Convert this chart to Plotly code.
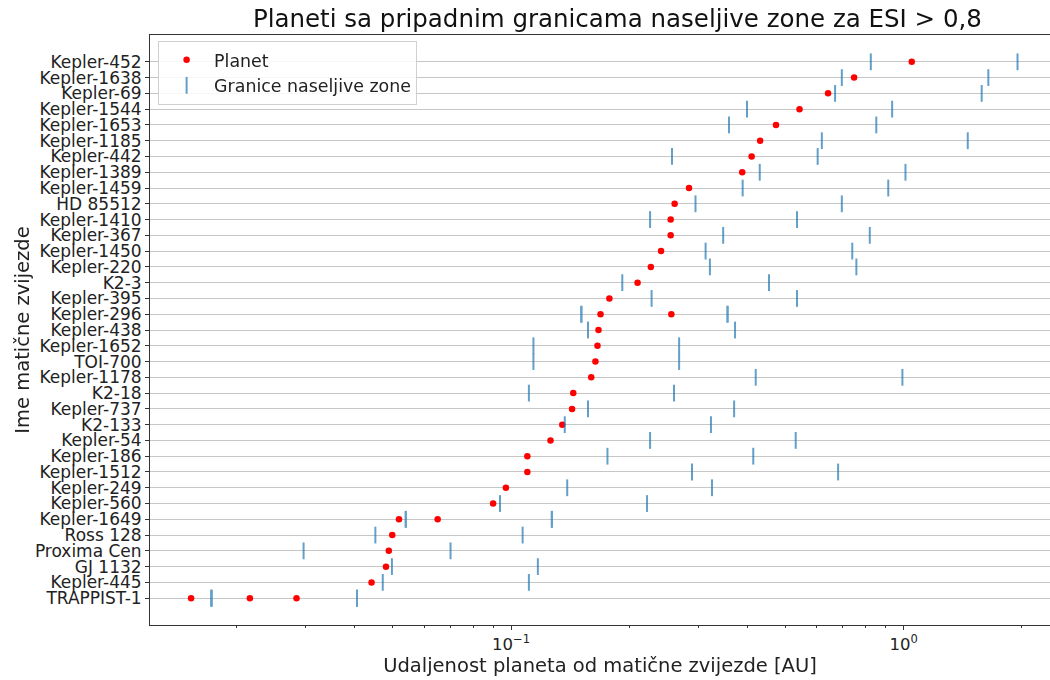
import plotly.graph_objects as go

# Host stars, top to bottom as shown on the chart
STARS = [
    "Kepler-452", "Kepler-1638", "Kepler-69", "Kepler-1544", "Kepler-1653",
    "Kepler-1185", "Kepler-442", "Kepler-1389", "Kepler-1459", "HD 85512",
    "Kepler-1410", "Kepler-367", "Kepler-1450", "Kepler-220", "K2-3",
    "Kepler-395", "Kepler-296", "Kepler-438", "Kepler-1652", "TOI-700",
    "Kepler-1178", "K2-18", "Kepler-737", "K2-133", "Kepler-54",
    "Kepler-186", "Kepler-1512", "Kepler-249", "Kepler-560", "Kepler-1649",
    "Ross 128", "Proxima Cen", "GJ 1132", "Kepler-445", "TRAPPIST-1",
]

# Habitable zone bounds per star [AU]
HZ_INNER = [
    0.825, 0.696, 0.669, 0.399, 0.359,
    0.619, 0.257, 0.430, 0.389, 0.295,
    0.226, 0.347, 0.313, 0.321, 0.192,
    0.228, 0.151, 0.157, 0.114, 0.114,
    0.420, 0.111, 0.157, 0.137, 0.226,
    0.176, 0.289, 0.139, 0.0937, 0.0539,
    0.0451, 0.0296, 0.0497, 0.0471, 0.01724,
]
HZ_OUTER = [
    1.951, 1.644, 1.581, 0.935, 0.852,
    1.457, 0.604, 1.011, 0.914, 0.696,
    0.535, 0.820, 0.740, 0.758, 0.454,
    0.535, 0.356, 0.372, 0.268, 0.268,
    0.993, 0.260, 0.370, 0.323, 0.531,
    0.414, 0.681, 0.325, 0.222, 0.127,
    0.107, 0.0701, 0.117, 0.111, 0.0405,
]

# Planets with ESI > 0.8: host star and orbital distance [AU]
PLANET_STAR = [
    "Kepler-452", "Kepler-1638", "Kepler-69", "Kepler-1544", "Kepler-1653",
    "Kepler-1185", "Kepler-442", "Kepler-1389", "Kepler-1459", "HD 85512",
    "Kepler-1410", "Kepler-367", "Kepler-1450", "Kepler-220", "K2-3",
    "Kepler-395", "Kepler-296", "Kepler-296", "Kepler-438", "Kepler-1652",
    "TOI-700", "Kepler-1178", "K2-18", "Kepler-737", "K2-133",
    "Kepler-54", "Kepler-186", "Kepler-1512", "Kepler-249", "Kepler-560",
    "Kepler-1649", "Kepler-1649", "Ross 128", "Proxima Cen", "GJ 1132",
    "Kepler-445", "TRAPPIST-1", "TRAPPIST-1", "TRAPPIST-1",
]
PLANET_DIST = [
    1.049, 0.748, 0.642, 0.543, 0.473,
    0.431, 0.410, 0.388, 0.284, 0.261,
    0.255, 0.255, 0.241, 0.227, 0.210,
    0.178, 0.169, 0.256, 0.167, 0.166,
    0.164, 0.160, 0.144, 0.143, 0.135,
    0.126, 0.110, 0.110, 0.097, 0.090,
    0.0518, 0.0650, 0.0498, 0.0488, 0.0480,
    0.0441, 0.0153, 0.0216, 0.0284,
]

MAJOR_TICKS = [0.1, 1]
MAJOR_LABELS = ["10<sup>−1</sup>", "10<sup>0</sup>"]
MINOR_TICKS = [0.02, 0.03, 0.04, 0.05, 0.06, 0.07, 0.08, 0.09,
               0.2, 0.3, 0.4, 0.5, 0.6, 0.7, 0.8, 0.9, 2]

FONT = "DejaVu Sans"

# stars are placed bottom-up: TRAPPIST-1 at 0, Kepler-452 at the top
n = len(STARS)
star_pos = {s: n - 1 - i for i, s in enumerate(STARS)}

# bounds are drawn once per planet, so multi-planet systems overlap
bound_x = []
bound_y = []
for star in PLANET_STAR:
    i = STARS.index(star)
    bound_x += [HZ_INNER[i], HZ_OUTER[i]]
    bound_y += [star_pos[star], star_pos[star]]

fig = go.Figure()
fig.add_trace(go.Scatter(
    x=PLANET_DIST, y=[star_pos[s] for s in PLANET_STAR],
    mode="markers", name="Planet",
    marker=dict(color="red", size=6.5, line=dict(width=0)),
))
fig.add_trace(go.Scatter(
    x=bound_x, y=bound_y, mode="markers", name="Granice naseljive zone",
    opacity=0.7,
    marker=dict(symbol="line-ns", size=12, color="#1f77b4",
                line=dict(color="#1f77b4", width=2)),
))

fig.update_layout(
    width=1050, height=680,
    paper_bgcolor="white", plot_bgcolor="white",
    margin=dict(l=150, r=0, t=35, b=55),
    font=dict(family=FONT, size=17, color="#222"),
    title=dict(text="Planeti sa pripadnim granicama naseljive zone za ESI > 0,8",
               x=0.588, xref="container", xanchor="center",
               y=0.973, yref="container", yanchor="middle",
               font=dict(size=24.5, family=FONT, color="#111")),
    legend=dict(x=0.009, y=0.99, xanchor="left", yanchor="top",
                bgcolor="rgba(255,255,255,0.85)", bordercolor="#d0d0d0",
                borderwidth=1, font=dict(size=17.4, family=FONT),
                itemwidth=45, tracegroupgap=0),
    showlegend=True,
)

fig.update_xaxes(
    type="log", range=[-1.92, 0.373], automargin=False,
    tickmode="array", tickvals=MAJOR_TICKS, ticktext=MAJOR_LABELS,
    ticks="outside", ticklen=4, tickcolor="#333",
    minor=dict(tickmode="array", tickvals=MINOR_TICKS, ticks="outside",
               ticklen=2, tickcolor="#333", showgrid=False),
    showgrid=False, zeroline=False,
    showline=True, linecolor="#333", linewidth=1, mirror=True,
    tickfont=dict(size=16.5),
    title=dict(text="Udaljenost planeta od matične zvijezde [AU]",
               font=dict(size=19.5), standoff=3),
)

fig.update_yaxes(
    range=[-1.7, n + 0.7], automargin=False,
    tickmode="array", tickvals=[star_pos[s] for s in STARS], ticktext=STARS,
    ticks="outside", ticklen=4, tickcolor="#333",
    showgrid=True, gridcolor="#c6c6c6", gridwidth=1, zeroline=False,
    showline=True, linecolor="#333", linewidth=1,
    tickfont=dict(size=17),
    title=dict(text="Ime matične zvijezde", font=dict(size=19.5), standoff=0),
)

# drop the browser's default 8px page margin so the figure fills the window
fig.write_html("out.html", config={"displayModeBar": False},
               post_script="document.body.style.margin = '0';")
